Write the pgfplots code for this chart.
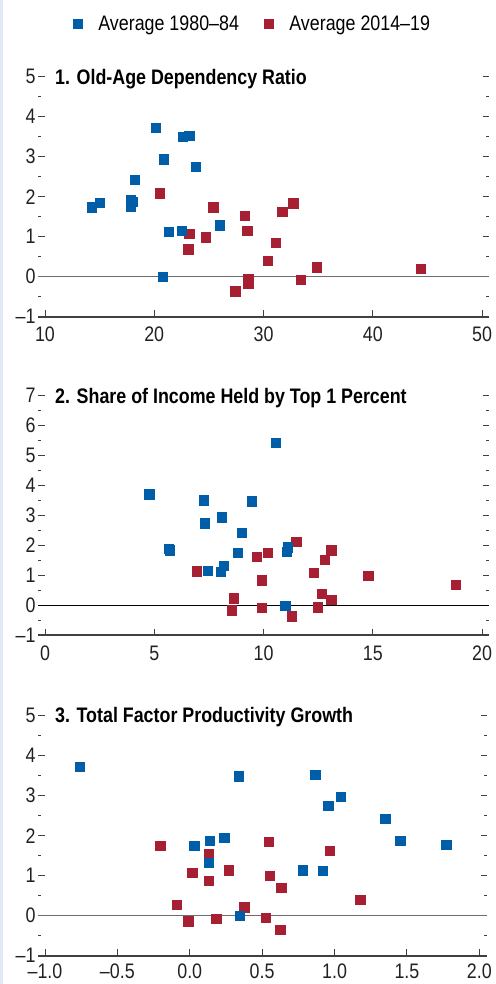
\documentclass[border=0pt]{standalone}
\usepackage{fontspec}
\setmainfont{Liberation Sans}[FakeStretch=0.85]
\usepackage{pgfplots}
\pgfplotsset{compat=1.18}

\definecolor{imfblue}{RGB}{0,94,168}
\definecolor{imfred}{RGB}{167,31,50}
\definecolor{tickgray}{RGB}{64,64,64}
\definecolor{zerogray}{RGB}{110,110,110}
\definecolor{stripblue}{RGB}{226,232,245}

\newcommand{\lbl}{\fontsize{21}{25}\selectfont}
\newcommand{\lblb}{\fontsize{21}{25}\selectfont\bfseries}

\pgfplotsset{
  panel/.style={
    scale only axis,
    height=240pt,
    axis line style={draw=none},
    ytick pos=both, yticklabel pos=left,
    xtick pos=lower,
    tick align=inside,
    major tick length=6.5pt,
    minor tick length=3pt,
    every tick/.style={tickgray, line width=0.9pt},
    ticklabel style={font=\lbl, text=black!87},
    yticklabel style={xshift=1pt},
    xticklabel style={yshift=-7pt},
    clip=false,
  },
  blueser/.style={only marks, mark=square*, mark size=4.7pt, color=imfblue, mark options={draw=none, fill=imfblue}},
  redser/.style={only marks, mark=square*, mark size=4.7pt, color=imfred, mark options={draw=none, fill=imfred}},
}

\begin{document}
\begin{tikzpicture}
\useasboundingbox (0,0) rectangle (495pt,984pt);
\fill[stripblue] (0,0) rectangle (3pt,984pt);

% Panel 1
\begin{axis}[
    panel,
    at={(38pt,667.3pt)}, anchor=south west,
    width=451pt,
    xmin=9.36, xmax=50.64,
    ymin=-1, ymax=5,
    xtick={10,20,30,40,50},
    xticklabels={10,20,30,40,50},
    ytick={-1,0,1,2,3,4,5},
    yticklabels={–1,0,1,2,3,4,5},
    minor ytick={-0.5,0.5,1.5,2.5,3.5,4.5},
    legend columns=2,
    legend style={at={(axis description cs:0.0776,1.2196)}, anchor=west,
        draw=none, fill=none, inner sep=0pt, outer sep=0pt,
        font=\lbl, nodes={inner sep=0pt},
        /tikz/every odd column/.append style={column sep=16pt},
        /tikz/every even column/.append style={column sep=25pt}},
    legend image code/.code={\draw[#1] plot coordinates {(0pt,0pt)};},
]
\addlegendimage{blueser}
\addlegendentry{Average 1980–84}
\addlegendimage{redser}
\addlegendentry{Average 2014–19}

\draw[tickgray, line width=1.8pt] (rel axis cs:0,0) -- (rel axis cs:1,0);
\draw[zerogray, line width=1.2pt] (axis cs:9.36,0) -- (axis cs:50.64,0);

\addplot[redser, forget plot] coordinates {
    (20.5,2.09) (25.4,1.74) (23.2,1.07) (23.1,0.69) (24.7,0.99)
    (28.3,1.52) (28.5,1.15) (31.7,1.62) (32.7,1.84) (31.1,0.85)
    (30.4,0.40) (27.4,-0.36) (28.6,-0.05) (28.6,-0.16) (33.4,-0.08)
    (34.85,0.24) (44.4,0.20)
};
\addplot[blueser, forget plot] coordinates {
    (14.3,1.74) (15.0,1.85) (17.87,1.76) (17.87,1.93) (18.0,1.87)
    (18.2,2.42) (20.12,3.72) (20.85,2.94) (22.6,3.50) (23.2,3.52)
    (23.8,2.75) (21.3,1.12) (22.5,1.15) (26.0,1.29) (20.76,0.0)
};
\node[anchor=base west, inner sep=0pt, font=\lblb] at ([yshift=-8.3pt]rel axis cs:0.0377,1) {1. Old-Age Dependency Ratio};
\end{axis}

% Panel 2
\begin{axis}[
    panel,
    at={(38pt,348.7pt)}, anchor=south west,
    width=451pt,
    xmin=-0.32, xmax=20.32,
    ymin=-1, ymax=7,
    xtick={0,5,10,15,20},
    xticklabels={0,5,10,15,20},
    ytick={-1,0,1,2,3,4,5,6,7},
    yticklabels={–1,0,1,2,3,4,5,6,7},
    minor ytick={-0.5,0.5,1.5,2.5,3.5,4.5,5.5,6.5},
]
\draw[tickgray, line width=1.8pt] (rel axis cs:0,0) -- (rel axis cs:1,0);
\draw[black, line width=1pt] (axis cs:-0.32,0) -- (axis cs:20.32,0);

\addplot[redser] coordinates {
    (6.95,1.14) (8.55,-0.16) (8.64,0.24) (9.68,1.62) (10.18,1.75)
    (9.92,0.84) (9.92,-0.09) (11.3,-0.36) (11.5,2.12) (12.29,1.08)
    (12.48,-0.06) (12.65,0.38) (12.79,1.52) (13.1,1.84) (13.1,0.18)
    (14.8,0.98) (18.8,0.69)
};
\addplot[blueser] coordinates {
    (4.76,3.70) (5.67,1.88) (5.72,1.84) (7.27,3.50) (7.32,2.74)
    (7.45,1.15) (8.03,1.12) (8.19,1.31) (8.09,2.94) (8.81,1.75)
    (9.0,2.42) (9.47,3.47) (10.55,5.41) (11.05,1.79) (11.11,1.94)
    (11.0,-0.02)
};
\node[anchor=base west, inner sep=0pt, font=\lblb] at ([yshift=-8.3pt]rel axis cs:0.0377,1) {2. Share of Income Held by Top 1 Percent};
\end{axis}

% Panel 3
\begin{axis}[
    panel,
    at={(38pt,28.3pt)}, anchor=south west,
    width=449pt,
    xmin=-1.048, xmax=2.053,
    ymin=-1, ymax=5,
    xtick={-1,-0.5,0,0.5,1,1.5,2},
    xticklabels={–1.0,–0.5,0.0,0.5,1.0,1.5,2.0},
    xticklabel style={yshift=2pt},
    ytick={-1,0,1,2,3,4,5},
    yticklabels={–1,0,1,2,3,4,5},
    minor ytick={-0.5,0.5,1.5,2.5,3.5,4.5},
]
\draw[tickgray, line width=1.8pt] (rel axis cs:0,0) -- (rel axis cs:1,0);
\draw[zerogray, line width=1.2pt] (axis cs:-1.048,0) -- (axis cs:2.053,0);

\addplot[redser] coordinates {
    (-0.205,1.75) (-0.09,0.27) (-0.012,-0.14) (0.016,1.08) (0.131,1.54)
    (0.131,0.87) (0.182,-0.07) (0.27,1.14) (0.376,0.21) (0.525,-0.05)
    (0.546,1.85) (0.553,1.00) (0.631,0.70) (0.624,-0.35) (0.968,1.62)
    (1.177,0.40)
};
\addplot[blueser] coordinates {
    (-0.758,3.72) (0.03,1.75) (0.138,1.87) (0.131,1.33) (0.237,1.95)
    (0.339,3.49) (0.346,0.0) (0.78,1.14) (0.866,3.52) (0.92,1.13)
    (0.956,2.75) (1.044,2.97) (1.35,2.42) (1.454,1.87) (1.772,1.78)
};
\node[anchor=base west, inner sep=0pt, font=\lblb] at ([yshift=-7pt]rel axis cs:0.0377,1) {3. Total Factor Productivity Growth};
\end{axis}
\end{tikzpicture}
\end{document}
